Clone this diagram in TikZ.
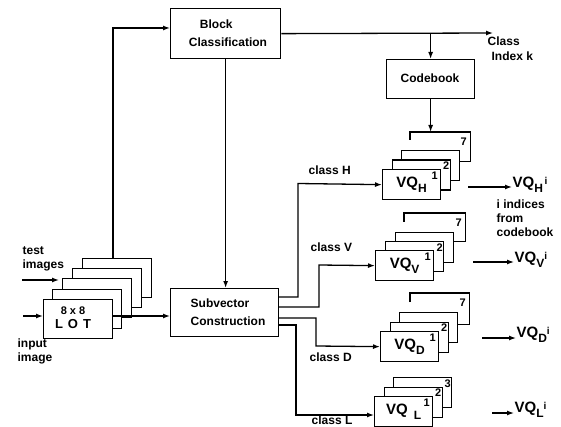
\documentclass[tikz,border=0pt]{standalone}
\usepackage{fontspec}
\setmainfont{Liberation Sans}
\usetikzlibrary{arrows.meta}
\begin{document}
\begin{tikzpicture}[x=1pt,y=-1pt,line width=1.3pt,
  box/.style={draw,fill=white,rectangle,inner sep=0pt,anchor=north west},
  lotbox/.style={box,minimum width=69pt,minimum height=39pt},
  vqbox/.style={box,minimum width=58pt,minimum height=30pt},
  txt/.style={font=\bfseries\fontsize{12}{13}\selectfont,inner sep=0pt},
  vqtxt/.style={font=\bfseries\fontsize{15}{16}\selectfont},
  num/.style={font=\bfseries\fontsize{11}{11}\selectfont,inner sep=0pt,anchor=north east},
  arr/.style={-{Latex[length=7pt,width=5pt]}}]
\useasboundingbox (0,0) rectangle (561,427);

% LOT stack
\node[lotbox] (lot5) at (82,258) {};
\node[lotbox] (lot4) at (72,268) {};
\node[lotbox] (lot3) at (62,278) {};
\node[lotbox] (lot2) at (52,289) {};
\node[lotbox] (lot1) at (43,299) {};
\node[txt,align=center] (lottxt) at (73,318) {\fontsize{11}{11}\selectfont 8 x 8\\[1pt]\fontsize{13}{13}\selectfont L\hspace{5pt}O\hspace{5pt}T};

% Block classification
\node[box,minimum width=110pt,minimum height=50pt] (bc) at (170,8) {};
\node[txt,align=left] (bctxt) at (228,33) {\hspace{11pt}Block\\[5pt]Classification};

% Codebook
\node[box,minimum width=88pt,minimum height=39pt] (cb) at (386,59) {};
\node[txt] (cbtxt) at (430,78) {Codebook};

% Subvector construction
\node[box,minimum width=108pt,minimum height=48pt] (sv) at (170,288) {};
\node[txt,align=left] (svtxt) at (228,312) {Subvector\\[5pt]Construction};

% VQ H stack
\node[vqbox,draw=none,fill=none,minimum width=59pt,minimum height=28pt] (h7) at (410,132) {};
\node[vqbox] (h3) at (401,150) {};
\node[vqbox] (h2) at (391.5,159.5) {};
\node[vqbox,vqtxt] (h1) at (382,169) {VQ\raisebox{-5pt}{\fontsize{12}{12}\selectfont H}\hspace{8pt}};
\draw ([yshift=-8pt]h7.north west) -- (h7.north west) -- (h7.north east) -- (h7.south east) -- (h3.east |- h7.south);
\node[num] (h7n) at ([xshift=-3pt,yshift=-5pt]h7.north east) {7};
\node[num] (h2n) at ([xshift=-1pt,yshift=-2pt]h2.north east) {2};
\node[num] (h1n) at ([xshift=-3pt,yshift=-2pt]h1.north east) {1};

% VQ V stack
\node[vqbox,draw=none,fill=none,minimum width=60pt,minimum height=27pt] (v7) at (404,213) {};
\node[vqbox] (v3) at (395,232) {};
\node[vqbox] (v2) at (385,241) {};
\node[vqbox,vqtxt] (v1) at (375,250) {VQ\raisebox{-5pt}{\fontsize{12}{12}\selectfont V}\hspace{8pt}};
\draw ([yshift=-9pt]v7.north west) -- (v7.north west) -- (v7.north east) -- (v7.south east) -- (v3.east |- v7.south);
\node[num] (v7n) at ([xshift=-3pt,yshift=-5pt]v7.north east) {7};
\node[num] (v2n) at ([xshift=-1pt,yshift=-2pt]v2.north east) {2};
\node[num] (v1n) at ([xshift=-3pt,yshift=-2pt]v1.north east) {1};

% VQ D stack
\node[vqbox,draw=none,fill=none,minimum width=58pt,minimum height=30pt] (d7) at (410,293) {};
\node[vqbox] (d3) at (399,312) {};
\node[vqbox] (d2) at (389.5,321.5) {};
\node[vqbox,vqtxt] (d1) at (380,331) {VQ\raisebox{-5pt}{\fontsize{12}{12}\selectfont D}\hspace{8pt}};
\draw ([yshift=-9pt]d7.north west) -- (d7.north west) -- (d7.north east) -- (d7.south east) -- (d3.east |- d7.south);
\node[num] (d7n) at ([xshift=-3pt,yshift=-5pt]d7.north east) {7};
\node[num] (d2n) at ([xshift=-1pt,yshift=-2pt]d2.north east) {2};
\node[num] (d1n) at ([xshift=-3pt,yshift=-2pt]d1.north east) {1};

% VQ L stack
\node[vqbox] (l3) at (393,377) {};
\node[vqbox] (l2) at (383.5,386.5) {};
\node[vqbox,vqtxt] (l1) at (374,396) {VQ\hspace{6pt}\raisebox{-5pt}{\fontsize{12}{12}\selectfont L}\hspace{8pt}};
\node[num] (l3n) at ([xshift=-1pt,yshift=-2pt]l3.north east) {3};
\node[num] (l2n) at ([xshift=-1pt,yshift=-2pt]l2.north east) {2};
\node[num] (l1n) at ([xshift=-3pt,yshift=-2pt]l1.north east) {1};

% inputs
\coordinate (inA) at (23,316);
\coordinate (tiA) at (22,280);
\coordinate (tiB) at (59,280);
\draw[arr] (inA) -- (inA -| lot1.west);
\draw[arr] (tiA) -- (tiB);
\node[txt,align=left,anchor=west] (tilbl) at (22,259) {test\\[1pt]images};
\node[txt,align=left,anchor=west] (inlbl) at (17,351) {input\\[1pt]image};

% LOT to BC and SV
\coordinate (up) at (113,28);
\draw[arr] (lot5.north -| up) -- (up) -- (up -| bc.west);
\draw[arr] (lot1.east |- inA) -- (sv.west |- inA);

% BC outputs
\coordinate (ck) at (493,33);
\draw[arr] (bc.east) -- (ck);
\draw[arr] (cb.north |- bc.east) -- (cb.north);
\node[txt,align=left,anchor=north west] (cklbl) at (487,36) {Class\\[2pt]\hspace{4pt}Index k};
\draw[arr] (bc.south) -- (bc.south |- sv.north);

% Codebook to H stack
\draw[arr] (cb.south) -- (cb.south |- h7.north);

% SV to VQ stacks
\coordinate (sH) at (278,297);
\coordinate (sV) at (278,307);
\coordinate (sD) at (278,318);
\coordinate (sL) at (278,325);
\draw[arr] (sH) -| (298,183.5) -- (h1.west);
\draw[arr] (sV) -| (319,265) -- (v1.west);
\draw[arr] (sD) -| (316,346) -- (d1.west);
\coordinate (lIn) at (374,415);
\draw[arr] (sL) -| (296,415) -- (lIn);
\node[txt,anchor=west] (cH) at (308,170) {class H};
\node[txt,anchor=west] (cV) at (310,247) {class V};
\node[txt,anchor=west] (cD) at (309,357) {class D};
\node[txt,anchor=west] (cL) at (311,420) {class L};

% outputs
\coordinate (oH) at (468,187);
\coordinate (oV) at (473,262);
\coordinate (oD) at (482,338);
\coordinate (oL) at (492,413);
\node[vqtxt,anchor=west,inner sep=0pt] (outH) at (512,185) {VQ\raisebox{-5pt}{\fontsize{12}{12}\selectfont H}\raisebox{3pt}{\fontsize{10}{10}\selectfont\,i}};
\node[vqtxt,anchor=west,inner sep=0pt] (outV) at (514,260) {VQ\raisebox{-5pt}{\fontsize{12}{12}\selectfont V}\raisebox{3pt}{\fontsize{10}{10}\selectfont i}};
\node[vqtxt,anchor=west,inner sep=0pt] (outD) at (516,335) {VQ\raisebox{-5pt}{\fontsize{12}{12}\selectfont D}\raisebox{3pt}{\fontsize{10}{10}\selectfont i}};
\node[vqtxt,anchor=west,inner sep=0pt] (outL) at (514,410) {VQ\raisebox{-5pt}{\fontsize{12}{12}\selectfont L}\raisebox{3pt}{\fontsize{10}{10}\selectfont i}};
\draw[arr] (oH) -- (oH -| outH.west);
\draw[arr] (oV) -- (oV -| outV.west);
\draw[arr] (oD) -- (oD -| outD.west);
\draw[arr] (oL) -- (oL -| outL.west);
\node[txt,align=left,anchor=north west] (idx) at (496,199) {i indices\\[1pt]from\\[1pt]codebook};
\end{tikzpicture}
\end{document}
